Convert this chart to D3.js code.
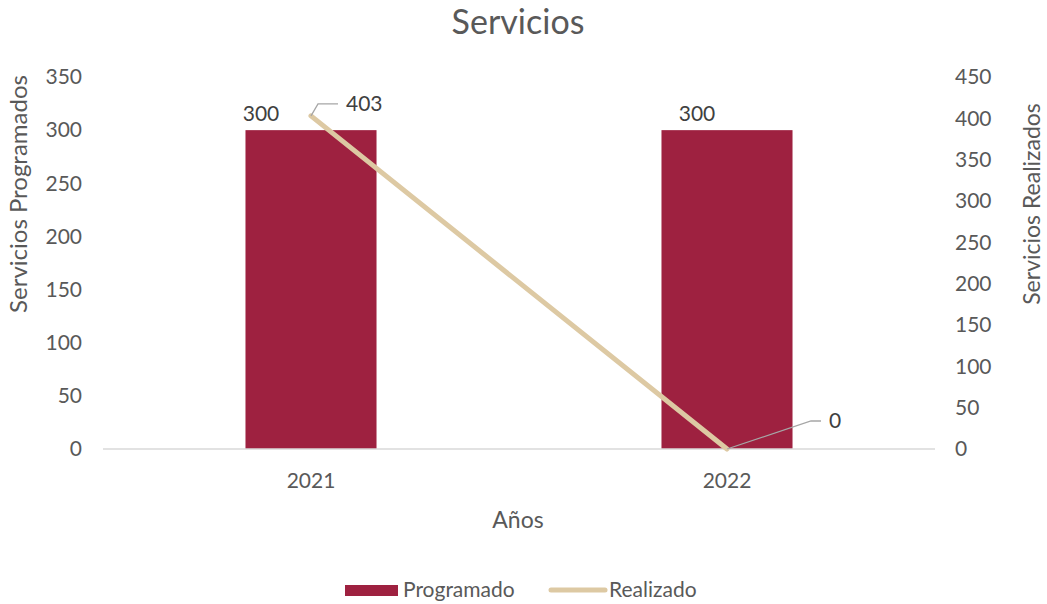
<!DOCTYPE html>
<html>
<head>
<meta charset="utf-8">
<script src="https://cdn.jsdelivr.net/npm/d3@7"></script>
<style>
  body { margin: 0; background: #fff; }
  svg { font-family: Lato, "Open Sans", sans-serif; }
</style>
</head>
<body>
<div id="chart"></div>
<script>
const years = ["2021", "2022"];
const programado = [300, 300];
const realizado = [403, 0];
const leftTicks = [0, 50, 100, 150, 200, 250, 300, 350];
const rightTicks = [0, 50, 100, 150, 200, 250, 300, 350, 400, 450];

const width = 1047, height = 604;
const margin = { left: 103, right: 112, top: 77, bottom: 155 };
const textColor = "#595959";
const barColor = "#9e2140";
const lineColor = "#ddc9a3";
const fs = 21;

const svg = d3.select("#chart").append("svg")
  .attr("width", width)
  .attr("height", height);

const x = d3.scaleBand()
  .domain(years)
  .range([margin.left, width - margin.right])
  .padding(0);

const yLeft = d3.scaleLinear()
  .domain([0, 350])
  .range([height - margin.bottom, margin.top]);

const yRight = d3.scaleLinear()
  .domain([0, 450])
  .range([height - margin.bottom, margin.top]);

const barW = x.bandwidth() * 0.315;

// title
svg.append("text")
  .attr("x", 518).attr("y", 34)
  .attr("text-anchor", "middle")
  .attr("font-size", 34)
  .attr("fill", textColor)
  .text("Servicios");

// bars
svg.append("g")
  .selectAll("rect")
  .data(years)
  .join("rect")
  .attr("x", (d) => x(d) + x.bandwidth() / 2 - barW / 2)
  .attr("width", barW)
  .attr("y", (d, i) => yLeft(programado[i]))
  .attr("height", (d, i) => yLeft(0) - yLeft(programado[i]))
  .attr("fill", barColor);

// baseline
svg.append("line")
  .attr("x1", margin.left).attr("x2", width - margin.right)
  .attr("y1", yLeft(0)).attr("y2", yLeft(0))
  .attr("stroke", "#d9d9d9")
  .attr("stroke-width", 1.3);

// left axis ticks
svg.append("g")
  .selectAll("text")
  .data(leftTicks)
  .join("text")
  .attr("x", 82)
  .attr("y", (d) => yLeft(d))
  .attr("dy", "0.35em")
  .attr("text-anchor", "end")
  .attr("font-size", fs)
  .attr("fill", textColor)
  .text((d) => d);

// right axis ticks
svg.append("g")
  .selectAll("text")
  .data(rightTicks)
  .join("text")
  .attr("x", 955)
  .attr("y", (d) => yRight(d))
  .attr("dy", "0.35em")
  .attr("text-anchor", "start")
  .attr("font-size", fs)
  .attr("fill", textColor)
  .text((d) => d);

// x ticks
svg.append("g")
  .selectAll("text")
  .data(years)
  .join("text")
  .attr("x", (d) => x(d) + x.bandwidth() / 2)
  .attr("y", 481)
  .attr("dy", "0.35em")
  .attr("text-anchor", "middle")
  .attr("font-size", fs)
  .attr("fill", textColor)
  .text((d) => d);

// axis titles
svg.append("text")
  .attr("transform", "translate(27,194) rotate(-90)")
  .attr("text-anchor", "middle")
  .attr("font-size", 24)
  .attr("fill", textColor)
  .text("Servicios Programados");

svg.append("text")
  .attr("transform", "translate(1040,204) rotate(-90)")
  .attr("text-anchor", "middle")
  .attr("font-size", 23)
  .attr("fill", textColor)
  .text("Servicios Realizados");

svg.append("text")
  .attr("x", 518).attr("y", 520)
  .attr("dy", "0.35em")
  .attr("text-anchor", "middle")
  .attr("font-size", 23)
  .attr("fill", textColor)
  .text("Años");

// line
const line = d3.line()
  .x((d, i) => x(years[i]) + x.bandwidth() / 2)
  .y((d) => yRight(d));

svg.append("path")
  .datum(realizado)
  .attr("d", line)
  .attr("fill", "none")
  .attr("stroke", lineColor)
  .attr("stroke-width", 5)
  .attr("stroke-linecap", "round");

// bar labels
const barLabelShift = [-50, -30];
svg.append("g")
  .selectAll("text")
  .data(years)
  .join("text")
  .attr("x", (d, i) => x(d) + x.bandwidth() / 2 + barLabelShift[i])
  .attr("y", (d, i) => yLeft(programado[i]) - 16)
  .attr("dy", "0.35em")
  .attr("text-anchor", "middle")
  .attr("font-size", fs)
  .attr("fill", "#404040")
  .text((d, i) => programado[i]);

// line labels with leader lines
const offsets = [{ dx: 7, dy: -12, len: 20 }, { dx: 84, dy: -28, len: 10 }];
const lbl = svg.append("g")
  .selectAll("g")
  .data(realizado)
  .join("g")
  .attr("transform", (d, i) => `translate(${x(years[i]) + x.bandwidth() / 2},${yRight(d)})`);

lbl.append("path")
  .attr("d", (d, i) => {
    const o = offsets[i];
    return `M0,0L${o.dx},${o.dy}L${o.dx + o.len},${o.dy}`;
  })
  .attr("fill", "none")
  .attr("stroke", "#a6a6a6")
  .attr("stroke-width", 1.3);

lbl.append("text")
  .attr("x", (d, i) => offsets[i].dx + offsets[i].len + 8)
  .attr("y", (d, i) => offsets[i].dy)
  .attr("dy", "0.35em")
  .attr("font-size", fs)
  .attr("fill", "#404040")
  .text((d) => d);

// legend
const legend = svg.append("g");
legend.append("rect")
  .attr("x", 345).attr("y", 585)
  .attr("width", 53).attr("height", 11)
  .attr("fill", barColor);
legend.append("text")
  .attr("x", 403).attr("y", 590)
  .attr("dy", "0.35em")
  .attr("font-size", fs)
  .attr("fill", textColor)
  .text("Programado");
legend.append("line")
  .attr("x1", 551).attr("x2", 605)
  .attr("y1", 590).attr("y2", 590)
  .attr("stroke", lineColor)
  .attr("stroke-width", 5)
  .attr("stroke-linecap", "round");
legend.append("text")
  .attr("x", 609).attr("y", 590)
  .attr("dy", "0.35em")
  .attr("font-size", fs)
  .attr("fill", textColor)
  .text("Realizado");
</script>
</body>
</html>
